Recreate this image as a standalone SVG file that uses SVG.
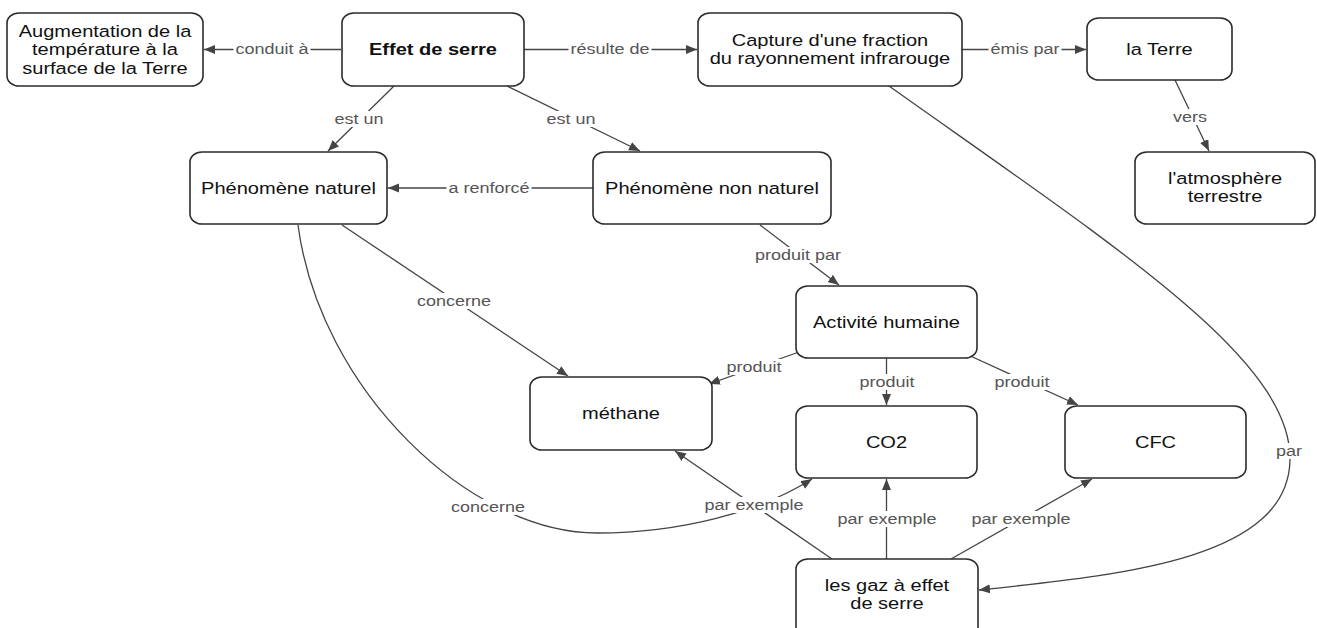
<svg xmlns="http://www.w3.org/2000/svg" width="1317" height="628" viewBox="0 0 1317 628">
<style>
.box{fill:#fff;stroke:#2b2b2b;stroke-width:1.6}
.nt{font-family:"Liberation Sans",Arial,sans-serif;font-size:16.7px;fill:#111;text-anchor:middle}
.b{font-weight:bold}
.lb{font-family:"Liberation Sans",Arial,sans-serif;font-size:15px;fill:#555;text-anchor:middle}
.bg{fill:#fff}
.c{fill:none;stroke:#444;stroke-width:1.3}
</style>
<defs>
<marker id="ah" markerUnits="userSpaceOnUse" markerWidth="12" markerHeight="10" refX="11" refY="4.5" orient="auto">
<path d="M0,0 L11,4.5 L0,9 z" fill="#444"/>
</marker>
</defs>
<rect width="1317" height="628" fill="#fff"/>
<g id="connectors">
<path class="c" d="M341,49.5 L204,49.5" marker-end="url(#ah)"/>
<path class="c" d="M524,49.5 L697,49.5" marker-end="url(#ah)"/>
<path class="c" d="M962,49.5 L1086,49.5" marker-end="url(#ah)"/>
<path class="c" d="M1175,80 L1209,151" marker-end="url(#ah)"/>
<path class="c" d="M394,86 L328,151" marker-end="url(#ah)"/>
<path class="c" d="M507,86 L640,151" marker-end="url(#ah)"/>
<path class="c" d="M593,188 L388,188" marker-end="url(#ah)"/>
<path class="c" d="M342,225 L568,376" marker-end="url(#ah)"/>
<path class="c" d="M760,225 L839,285" marker-end="url(#ah)"/>
<path class="c" d="M799,352 L709,384" marker-end="url(#ah)"/>
<path class="c" d="M886.5,358 L886.5,405" marker-end="url(#ah)"/>
<path class="c" d="M966,354 L1078,405" marker-end="url(#ah)"/>
<path class="c" d="M832,559 L675,451" marker-end="url(#ah)"/>
<path class="c" d="M886.5,559 L886.5,479" marker-end="url(#ah)"/>
<path class="c" d="M951,559 L1092,479" marker-end="url(#ah)"/>
<path class="c" d="M298,225 C320,390 470,533 597,533 C680,533 760,512 812,479" marker-end="url(#ah)"/>
<path class="c" d="M889,86 C1120,250 1292,360 1290,460 C1288,560 1120,575 979,590" marker-end="url(#ah)"/>
<rect class="bg" x="233.5" y="41" width="77" height="16"/>
<rect class="bg" x="568.5" y="41" width="83" height="16"/>
<rect class="bg" x="988.5" y="41" width="73" height="16"/>
<rect class="bg" x="332.5" y="111" width="53" height="16"/>
<rect class="bg" x="544.5" y="111" width="53" height="16"/>
<rect class="bg" x="1171" y="109" width="38" height="16"/>
<rect class="bg" x="446.5" y="180" width="85" height="16"/>
<rect class="bg" x="753" y="247" width="90" height="16"/>
<rect class="bg" x="415" y="293" width="78" height="16"/>
<rect class="bg" x="724.5" y="359" width="59" height="16"/>
<rect class="bg" x="857.5" y="374" width="59" height="16"/>
<rect class="bg" x="992.5" y="374" width="59" height="16"/>
<rect class="bg" x="449" y="499" width="78" height="16"/>
<rect class="bg" x="702.5" y="497" width="103" height="16"/>
<rect class="bg" x="835.5" y="511" width="103" height="16"/>
<rect class="bg" x="969.5" y="511" width="103" height="16"/>
<rect class="bg" x="1274" y="443" width="30" height="16"/>
<text class="lb" transform="scale(1.2,1)" x="226.67" y="54">conduit à</text>
<text class="lb" transform="scale(1.2,1)" x="508.33" y="54">résulte de</text>
<text class="lb" transform="scale(1.2,1)" x="854.17" y="54">émis par</text>
<text class="lb" transform="scale(1.2,1)" x="299.17" y="124">est un</text>
<text class="lb" transform="scale(1.2,1)" x="475.83" y="124">est un</text>
<text class="lb" transform="scale(1.2,1)" x="991.67" y="122">vers</text>
<text class="lb" transform="scale(1.2,1)" x="407.5" y="193">a renforcé</text>
<text class="lb" transform="scale(1.2,1)" x="665" y="260">produit par</text>
<text class="lb" transform="scale(1.2,1)" x="378.33" y="306">concerne</text>
<text class="lb" transform="scale(1.2,1)" x="628.33" y="372">produit</text>
<text class="lb" transform="scale(1.2,1)" x="739.17" y="387">produit</text>
<text class="lb" transform="scale(1.2,1)" x="851.67" y="387">produit</text>
<text class="lb" transform="scale(1.2,1)" x="406.67" y="512">concerne</text>
<text class="lb" transform="scale(1.2,1)" x="628.33" y="510">par exemple</text>
<text class="lb" transform="scale(1.2,1)" x="739.17" y="524">par exemple</text>
<text class="lb" transform="scale(1.2,1)" x="850.83" y="524">par exemple</text>
<text class="lb" transform="scale(1.2,1)" x="1074.17" y="456">par</text>
</g>
<g id="n_aug"><rect class="box" x="7" y="13" width="196" height="73" rx="12" ry="10"/>
<text class="nt" transform="scale(1.2,1)" x="87.5" y="37">Augmentation de la</text>
<text class="nt" transform="scale(1.2,1)" x="87.5" y="55.5">température à la</text>
<text class="nt" transform="scale(1.2,1)" x="87.5" y="74">surface de la Terre</text></g>
<g id="n_effet"><rect class="box" x="342" y="13" width="182" height="73" rx="12" ry="10"/>
<text class="nt b" transform="scale(1.2,1)" x="360.83" y="55.5">Effet de serre</text></g>
<g id="n_capture"><rect class="box" x="698" y="13" width="264" height="73" rx="12" ry="10"/>
<text class="nt" transform="scale(1.2,1)" x="691.67" y="46">Capture d'une fraction</text>
<text class="nt" transform="scale(1.2,1)" x="691.67" y="64">du rayonnement infrarouge</text></g>
<g id="n_terre"><rect class="box" x="1087" y="18" width="145" height="62" rx="12" ry="10"/>
<text class="nt" transform="scale(1.2,1)" x="966.25" y="55">la Terre</text></g>
<g id="n_atmo"><rect class="box" x="1135" y="152" width="180" height="72" rx="12" ry="10"/>
<text class="nt" transform="scale(1.2,1)" x="1020.83" y="184.5">l'atmosphère</text>
<text class="nt" transform="scale(1.2,1)" x="1020.83" y="202.5">terrestre</text></g>
<g id="n_nat"><rect class="box" x="190" y="152" width="197" height="72" rx="12" ry="10"/>
<text class="nt" transform="scale(1.2,1)" x="240.42" y="194">Phénomène naturel</text></g>
<g id="n_nonnat"><rect class="box" x="593" y="152" width="238" height="72" rx="12" ry="10"/>
<text class="nt" transform="scale(1.2,1)" x="593.33" y="194">Phénomène non naturel</text></g>
<g id="n_act"><rect class="box" x="796" y="286" width="181" height="72" rx="12" ry="10"/>
<text class="nt" transform="scale(1.2,1)" x="738.75" y="328">Activité humaine</text></g>
<g id="n_meth"><rect class="box" x="530" y="377" width="182" height="73" rx="12" ry="10"/>
<text class="nt" transform="scale(1.2,1)" x="517.5" y="419.5">méthane</text></g>
<g id="n_co2"><rect class="box" x="796" y="406" width="181" height="72" rx="12" ry="10"/>
<text class="nt" transform="scale(1.2,1)" x="738.75" y="448">CO2</text></g>
<g id="n_cfc"><rect class="box" x="1065" y="406" width="181" height="72" rx="12" ry="10"/>
<text class="nt" transform="scale(1.2,1)" x="962.92" y="448">CFC</text></g>
<g id="n_gaz"><rect class="box" x="796" y="559" width="182" height="80" rx="12" ry="10"/>
<text class="nt" transform="scale(1.2,1)" x="739.17" y="591.5">les gaz à effet</text>
<text class="nt" transform="scale(1.2,1)" x="739.17" y="609.5">de serre</text></g>
</svg>
